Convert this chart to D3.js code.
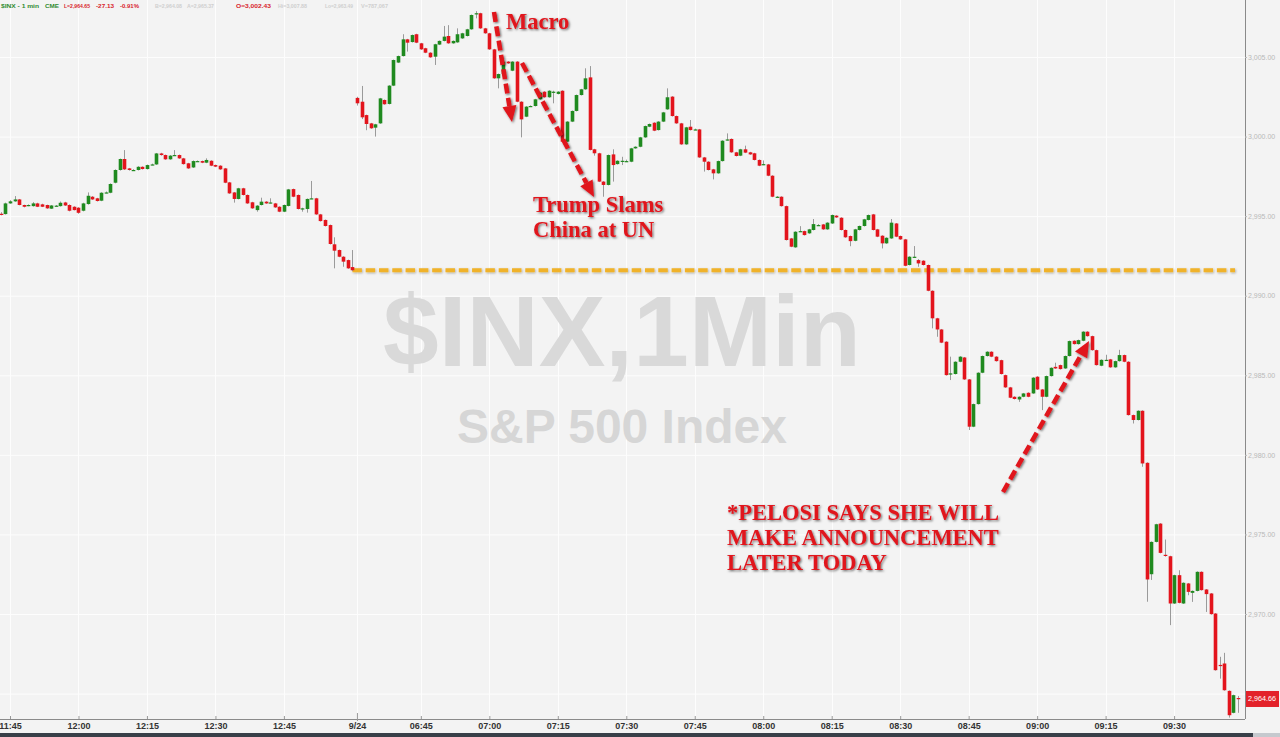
<!DOCTYPE html>
<html><head><meta charset="utf-8">
<script src="https://cdn.jsdelivr.net/npm/d3@7"></script>
<style>html,body{margin:0;padding:0;background:#f3f3f3;overflow:hidden}</style>
</head><body><svg id="c" width="1280" height="737"></svg>
<script>
// ---- DATA (1-minute candles, previous day 11:43-13:00, then 9/24 06:31-09:44) ----
const open = [
2995.15,2995.13,2995.80,2995.93,2996.05,2995.70,2995.66,2995.63,2995.80,2995.74,
2995.70,2995.47,2995.64,2995.63,2995.86,2995.70,2995.59,2995.53,2995.34,2995.76,
2996.22,2996.12,2995.97,2996.47,2996.47,2997.10,2997.90,2998.59,2998.00,2997.88,
2997.90,2998.10,2997.96,2998.23,2998.25,2998.94,2998.84,2998.57,2998.82,2998.84,
2998.63,2998.32,2998.06,2998.44,2998.46,2998.36,2998.48,2998.21,2998.17,2998.00,
2997.12,2996.49,2996.08,2996.75,2996.33,2995.87,2995.38,2995.70,2995.91,2995.84,
2995.80,2995.59,2995.28,2995.64,2996.70,2996.33,2995.47,2995.45,2996.10,2996.12,
2995.11,2994.76,2994.44,2993.23,2992.87,2992.45,2992.24,2991.80,
3002.43,3002.19,3001.35,3000.83,3000.56,3000.83,3002.30,3002.05,3003.20,3004.65,
3005.06,3006.11,3005.94,3006.43,3005.86,3005.55,3005.27,3005.02,3005.78,3006.01,
3006.32,3005.86,3005.92,3006.17,3006.32,3006.74,3007.70,3007.75,3006.80,3006.49,
3005.48,3003.66,3003.93,3004.71,3004.14,3004.71,3002.19,3001.25,3001.90,3001.92,
3002.34,3002.82,3002.47,3002.80,3002.68,3002.88,2999.68,3000.94,3001.61,3002.61,
3002.97,3003.72,2999.20,2998.95,2997.17,2996.96,2998.88,2998.27,2998.46,2998.46,
2998.42,2999.26,2999.36,2999.95,3000.62,3000.87,3000.41,3000.94,3001.71,3002.51,
3001.29,3000.83,2999.51,3000.62,3000.43,3000.45,2998.69,2998.42,2997.94,2997.69,
2998.46,2999.78,2999.85,2999.01,2998.80,2999.20,2999.01,2998.95,2998.53,2998.25,
2998.25,2997.54,2996.20,2996.22,2995.63,2993.60,2993.04,2994.04,2994.06,2993.92,
2994.13,2994.42,2994.48,2994.17,2994.54,2995.03,2994.90,2994.13,2993.75,2993.45,
2994.13,2994.38,2994.76,2995.11,2994.17,2993.77,2993.29,2993.60,2994.54,2993.75,
2993.54,2991.93,2992.43,2992.24,2992.20,2991.93,2990.31,2988.58,2987.88,2987.11,
2985.10,2985.08,2985.85,2986.12,2984.74,2981.77,2983.19,2985.16,2986.21,2986.48,
2986.17,2985.95,2985.01,2984.24,2983.65,2983.48,2983.65,2983.90,2983.86,2984.91,
2984.11,2983.65,2984.95,2985.53,2985.64,2985.43,2986.21,2987.17,2986.96,2987.17,
2987.74,2987.46,2986.58,2985.60,2985.95,2986.00,2985.50,2985.89,2986.27,2985.85,
2982.50,2982.19,2982.77,2979.50,2972.50,2974.53,2975.68,2973.72,2973.63,2970.66,
2972.44,2970.66,2971.92,2971.33,2971.45,2972.65,2971.54,2971.29,2970.03,2966.80,
2966.89,2965.17,2963.79,2964.72];
const high = [
2995.25,2995.85,2996.00,2996.26,2996.08,2995.72,2995.74,2995.88,2995.84,2995.78,
2995.72,2995.70,2995.70,2995.92,2995.90,2995.74,2995.62,2995.56,2995.84,2996.49,
2996.26,2996.15,2996.50,2996.55,2997.06,2997.94,2998.62,2999.15,2998.03,2997.95,
2998.14,2998.13,2998.24,2998.30,2998.97,2998.98,2998.87,2998.84,2999.15,2998.87,
2998.66,2998.35,2998.50,2998.50,2998.49,2998.63,2998.51,2998.24,2998.20,2998.03,
2997.15,2996.52,2996.78,2996.78,2996.36,2995.90,2995.69,2996.16,2995.94,2996.12,
2995.83,2995.62,2995.73,2996.71,2996.73,2996.36,2995.53,2996.11,2997.21,2996.15,
2995.14,2994.79,2994.47,2993.67,2992.90,2992.48,2992.27,2992.87,
3002.50,3003.18,3001.38,3000.86,3000.80,3002.43,3002.33,3003.23,3004.84,3005.09,
3006.43,3006.14,3006.41,3006.46,3005.89,3005.58,3005.30,3005.83,3006.04,3006.95,
3007.00,3006.04,3006.80,3006.52,3006.77,3007.67,3007.88,3007.78,3006.83,3006.52,
3005.51,3003.96,3004.74,3004.74,3004.74,3004.74,3002.22,3001.91,3001.96,3002.37,
3002.79,3002.85,3002.91,3002.88,3002.85,3002.91,3000.97,3001.64,3002.64,3003.00,
3004.29,3004.43,2999.23,2998.98,2997.20,2998.87,2999.20,2998.51,2998.73,2998.55,
2999.29,2999.39,2999.98,3000.69,3000.82,3000.90,3000.97,3001.55,3003.03,3002.54,
3001.32,3000.86,3000.61,3001.04,3000.50,3000.48,2998.72,2998.45,2997.97,2998.49,
2999.77,3000.20,2999.88,2999.04,2999.23,2999.43,2999.04,2998.98,2998.56,2998.50,
2998.28,2997.57,2996.26,2996.25,2995.66,2993.63,2994.05,2994.37,2994.09,2994.20,
2994.82,2994.50,2994.51,2994.62,2995.10,2995.06,2994.93,2994.16,2993.78,2994.20,
2994.41,2994.83,2995.10,2995.14,2994.20,2993.80,2993.67,2994.82,2994.57,2993.78,
2993.57,2992.48,2993.12,2992.30,2992.23,2991.96,2990.34,2988.61,2987.91,2987.14,
2986.17,2985.88,2986.20,2986.15,2984.77,2983.22,2985.19,2986.24,2986.51,2986.51,
2986.20,2985.98,2985.04,2984.27,2983.68,2983.68,2983.89,2983.93,2984.88,2984.94,
2984.14,2984.98,2985.50,2985.79,2985.67,2986.24,2987.18,2987.20,2987.24,2987.77,
2987.77,2987.49,2986.61,2986.00,2986.29,2986.03,2985.92,2986.60,2986.30,2985.88,
2982.53,2982.80,2982.80,2979.53,2974.56,2975.67,2975.71,2974.68,2973.66,2972.47,
2972.75,2971.99,2971.95,2971.48,2972.68,2972.68,2971.57,2971.32,2970.06,2967.31,
2967.56,2965.20,2964.93,2964.85];
const low = [
2995.05,2995.10,2995.78,2995.90,2995.68,2995.55,2995.62,2995.60,2995.57,2995.57,
2995.46,2995.45,2995.60,2995.60,2995.64,2995.30,2995.36,2995.15,2995.30,2995.72,
2996.02,2995.92,2995.94,2996.44,2996.44,2997.06,2997.86,2997.90,2997.86,2997.85,
2997.87,2997.93,2997.93,2998.20,2998.22,2998.80,2998.54,2998.54,2998.78,2998.60,
2998.24,2997.97,2998.03,2998.42,2998.33,2998.33,2998.14,2998.08,2997.91,2997.07,
2996.40,2995.85,2996.05,2996.30,2995.77,2995.46,2995.28,2995.67,2995.77,2995.80,
2995.52,2995.25,2995.25,2995.61,2996.19,2995.42,2995.28,2995.22,2996.07,2995.08,
2994.66,2994.35,2993.22,2991.72,2992.42,2991.82,2991.69,2991.55,
3001.95,3001.10,3000.40,3000.49,3000.00,3000.80,3002.00,3002.02,3003.17,3004.62,
3005.03,3005.34,3005.91,3005.87,3005.45,3005.24,3004.95,3004.50,3005.75,3005.98,
3005.83,3005.83,3005.89,3006.14,3006.29,3006.71,3007.43,3006.77,3006.46,3005.45,
3003.63,3003.03,3003.90,3004.57,3004.11,3002.16,2999.95,3001.22,3001.86,3001.89,
3002.31,3002.44,3002.44,3002.09,3002.65,2999.65,2999.65,3000.91,3001.58,3002.58,
3002.94,2999.13,2998.80,2997.14,2996.22,2996.93,2997.17,2998.24,2998.21,2998.40,
2998.39,2999.23,2999.33,2999.92,3000.59,3000.34,3000.38,3000.91,3001.68,3001.26,
3000.80,2999.48,2999.48,3000.38,3000.40,2998.66,2997.80,2997.87,2997.31,2997.66,
2998.43,2999.75,2998.98,2998.75,2998.77,2998.96,2998.85,2998.50,2998.14,2998.20,
2997.51,2996.19,2996.16,2995.60,2993.47,2993.05,2993.01,2994.01,2993.78,2993.89,
2994.10,2994.38,2994.14,2994.14,2994.51,2994.89,2994.10,2993.64,2993.11,2993.42,
2994.10,2994.35,2994.73,2994.10,2993.68,2992.97,2993.26,2993.57,2993.68,2993.51,
2991.85,2991.90,2992.40,2991.82,2991.90,2990.28,2987.95,2987.42,2987.02,2984.98,
2984.70,2985.05,2985.82,2984.71,2981.56,2981.74,2983.16,2985.13,2986.18,2986.14,
2985.86,2985.05,2984.21,2983.56,2983.48,2983.33,2983.62,2983.62,2983.83,2984.08,
2982.81,2983.62,2984.92,2985.40,2985.36,2985.40,2986.18,2986.93,2986.93,2987.14,
2987.43,2986.55,2985.61,2985.57,2985.92,2985.47,2985.47,2985.86,2985.82,2982.47,
2981.97,2982.16,2979.25,2970.77,2972.14,2974.50,2973.81,2973.60,2969.30,2970.63,
2970.67,2970.63,2971.18,2970.76,2971.42,2971.47,2970.13,2969.96,2966.44,2965.94,
2965.18,2963.49,2963.76,2963.79];
const close = [
2995.13,2995.80,2995.93,2996.05,2995.70,2995.59,2995.70,2995.80,2995.59,2995.59,
2995.49,2995.67,2995.66,2995.84,2995.67,2995.34,2995.38,2995.21,2995.80,2996.28,
2996.05,2995.95,2996.47,2996.49,2997.02,2997.90,2998.59,2997.94,2997.90,2997.90,
2998.10,2997.96,2998.21,2998.25,2998.94,2998.84,2998.57,2998.80,2998.84,2998.63,
2998.27,2998.00,2998.46,2998.46,2998.36,2998.53,2998.17,2998.11,2997.94,2997.10,
2996.43,2996.08,2996.75,2996.33,2995.80,2995.49,2995.66,2995.91,2995.80,2995.86,
2995.55,2995.28,2995.70,2996.68,2996.22,2995.45,2995.49,2996.08,2996.12,2995.11,
2994.69,2994.38,2993.25,2992.83,2992.45,2992.14,2991.72,2991.60,
3002.09,3001.21,3000.79,3000.52,3000.77,3002.40,3002.03,3003.20,3004.81,3005.06,
3006.11,3005.90,3006.38,3005.90,3005.48,3005.27,3004.98,3005.80,3006.01,3006.28,
3005.86,3006.01,3006.43,3006.49,3006.74,3007.64,3007.75,3006.80,3006.49,3005.48,
3003.66,3003.93,3004.71,3004.60,3004.71,3002.19,3001.08,3001.88,3001.92,3002.34,
3002.76,3002.47,3002.88,3002.82,3002.82,2999.68,3000.94,3001.61,3002.61,3002.97,
3003.66,2999.16,2998.95,2997.17,2996.96,2998.84,2998.21,2998.48,2998.48,2998.46,
2999.26,2999.36,2999.95,3000.66,3000.79,3000.37,3000.94,3001.52,3002.47,3001.29,
3000.83,2999.51,3000.58,3000.41,3000.45,2998.69,2998.42,2997.90,2997.69,2998.46,
2999.74,2999.82,2999.01,2998.78,2999.20,2998.99,2998.88,2998.53,2998.17,2998.27,
2997.54,2996.22,2996.22,2995.63,2993.50,2993.08,2994.02,2994.06,2993.81,2994.17,
2994.50,2994.44,2994.17,2994.59,2995.07,2994.92,2994.13,2993.67,2993.43,2994.17,
2994.38,2994.80,2995.07,2994.13,2993.71,2993.29,2993.64,2994.59,2993.71,2993.54,
2991.88,2992.45,2992.45,2992.03,2991.93,2990.31,2988.58,2987.88,2987.05,2985.01,
2985.12,2985.85,2986.17,2984.74,2981.77,2983.19,2985.16,2986.21,2986.48,2986.17,
2985.89,2985.08,2984.24,2983.59,2983.51,2983.65,2983.86,2983.65,2984.85,2984.11,
2983.65,2984.95,2985.47,2985.43,2985.39,2986.21,2987.15,2986.96,2987.21,2987.74,
2987.46,2986.58,2985.64,2985.97,2985.97,2985.50,2985.89,2986.27,2985.85,2982.50,
2982.19,2982.77,2979.46,2972.17,2974.53,2975.64,2973.84,2973.70,2970.66,2972.44,
2970.70,2971.96,2971.39,2971.45,2972.65,2971.50,2971.25,2969.99,2966.47,2966.78,
2965.21,2963.64,2964.90,2964.65];

const tickIndex  = [2,17,32,47,62,78,92,107,122,137,152,167,182,197,212,227,242,257];
const tickLabels = ["11:45","12:00","12:15","12:30","12:45","9/24","06:45","07:00","07:15",
                    "07:30","07:45","08:00","08:15","08:30","08:45","09:00","09:15","09:30"];
const priceTicks = [2970,2975,2980,2985,2990,2995,3000,3005];
const prevCloseLevel = 2991.6;
const prevCloseStartIndex = 77;
const lastPrice = 2964.66;
const headerTexts = [
  {t:"$INX - 1 min", c:"#2f8a2f", x:1,   w:38},
  {t:"CME",          c:"#2f8a2f", x:45,  w:14},
  {t:"L=2,964.65",   c:"#d8222b", x:64,  w:26},
  {t:"-27.13",       c:"#d8222b", x:96,  w:18},
  {t:"-0.91%",       c:"#d8222b", x:120, w:19},
  {t:"B=2,964.08",   c:"#cfcfcf", x:155, w:27},
  {t:"A=2,965.37",   c:"#cfcfcf", x:187, w:27},
  {t:"O=3,002.43",   c:"#d8222b", x:236, w:35},
  {t:"Hi=3,007.88",  c:"#cfcfcf", x:278, w:29},
  {t:"Lo=2,963.49",  c:"#cfcfcf", x:325, w:28},
  {t:"V=787,067",    c:"#cfcfcf", x:361, w:27}
];
const noteMacro  = ["Macro"];
const noteTrump  = ["Trump Slams","China at UN"];
const notePelosi = ["*PELOSI SAYS SHE WILL","MAKE ANNOUNCEMENT","LATER TODAY"];

// ---- CHART ----
const W = 1280, H = 737;
const plotRight = 1245, plotBottom = 719;
const svg = d3.select("#c");
const x = d3.scaleLinear().domain([0, 271]).range([0.87, 1238.0]);
const y = d3.scaleLinear().domain([2970, 3005]).range([614, 57]);

svg.append("rect").attr("width", W).attr("height", H).attr("fill", "#f3f3f3");

const defs = svg.append("defs");
const sh = defs.append("filter").attr("id","sh").attr("filterUnits","userSpaceOnUse")
  .attr("x",0).attr("y",0).attr("width",W).attr("height",H);
sh.append("feDropShadow").attr("dx",1.2).attr("dy",1.2).attr("stdDeviation",0.9).attr("flood-color","#000").attr("flood-opacity",0.55);
const sh2 = defs.append("filter").attr("id","sh2").attr("filterUnits","userSpaceOnUse")
  .attr("x",0).attr("y",0).attr("width",W).attr("height",H);
sh2.append("feDropShadow").attr("dx",0.8).attr("dy",1).attr("stdDeviation",0.8).attr("flood-color","#000").attr("flood-opacity",0.3);
const clip = defs.append("clipPath").attr("id","plot");
clip.append("rect").attr("x",0).attr("y",0).attr("width",plotRight).attr("height",plotBottom);

// grid
const grid = svg.append("g");
grid.selectAll("line.h").data(priceTicks.concat([2965])).join("line")
  .attr("x1",0).attr("x2",plotRight).attr("y1",d=>y(d)+0.5).attr("y2",d=>y(d)+0.5)
  .attr("stroke","#fdfdfd").attr("stroke-width",1);
grid.selectAll("line.v").data(tickIndex).join("line")
  .attr("x1",d=>Math.round(x(d))+0.5).attr("x2",d=>Math.round(x(d))+0.5).attr("y1",0).attr("y2",plotBottom)
  .attr("stroke","#fdfdfd").attr("stroke-width",1);

// watermark
svg.append("text").attr("x",622).attr("y",366).attr("text-anchor","middle")
  .attr("font-family","Liberation Sans, Arial, sans-serif").attr("font-weight","bold")
  .attr("font-size",100).attr("fill","#d9d9d9").text("$INX,1Min");
svg.append("text").attr("x",622).attr("y",443).attr("text-anchor","middle")
  .attr("font-family","Liberation Sans, Arial, sans-serif").attr("font-weight","bold")
  .attr("font-size",48).attr("fill","#d6d6d6").text("S&P 500 Index");

// prev close dashed line
svg.append("line")
  .attr("x1", x(prevCloseStartIndex)).attr("x2", 1235)
  .attr("y1", y(prevCloseLevel)).attr("y2", y(prevCloseLevel))
  .attr("stroke","#f0b22a").attr("stroke-width",4).attr("stroke-dasharray","9.5,3.8")
  .attr("filter","url(#sh2)");

// candles
const idx = d3.range(open.length);
const cg = svg.append("g").attr("clip-path","url(#plot)");
cg.selectAll("line.w").data(idx).join("line")
  .attr("x1",i=>Math.round(x(i))+0.5).attr("x2",i=>Math.round(x(i))+0.5)
  .attr("y1",i=>y(high[i])).attr("y2",i=>y(low[i]))
  .attr("stroke","#9a9a9a").attr("stroke-width",1);
cg.selectAll("rect.b").data(idx).join("rect")
  .attr("x",i=>Math.round(x(i))-1.3).attr("width",3.6)
  .attr("y",i=>y(Math.max(open[i],close[i])))
  .attr("height",i=>Math.max(1.2, Math.abs(y(open[i])-y(close[i]))))
  .attr("fill",i=> close[i] >= open[i] ? "#1f8a1f" : "#e3141c");

// annotations
const red = "#e0141c";
function arrow(x1,y1,x2,y2){
  const g = svg.append("g").attr("filter","url(#sh)");
  const ang = Math.atan2(y2-y1, x2-x1);
  const hl = 16, hw = 7;
  const bx = x2 - hl*Math.cos(ang), by = y2 - hl*Math.sin(ang);
  g.append("line").attr("x1",x1).attr("y1",y1).attr("x2",bx).attr("y2",by)
    .attr("stroke",red).attr("stroke-width",4.5).attr("stroke-dasharray","10,4.5");
  const px = -Math.sin(ang), py = Math.cos(ang);
  g.append("path").attr("d",`M${x2},${y2}L${bx+px*hw},${by+py*hw}L${bx-px*hw},${by-py*hw}Z`).attr("fill",red);
}
arrow(494,12,512,122);
arrow(522,63,594,197);
arrow(1003,492,1089,341);

function note(lines,x0,y0,lh,fs){
  const t = svg.append("text").attr("font-family","Liberation Serif, 'Times New Roman', serif")
    .attr("font-weight","bold").attr("font-size",fs).attr("fill",red).attr("filter","url(#sh)");
  t.selectAll("tspan").data(lines).join("tspan").attr("x",x0).attr("y",(d,i)=>y0+i*lh).text(d=>d);
}
note(noteMacro,506,29,24,22.5);
note(noteTrump,533,212,24.5,22.5);
note(notePelosi,727,520,25,22.5);

// right axis
const ay = svg.append("g").attr("transform",`translate(${plotRight},0)`)
  .call(d3.axisRight(y).tickValues(priceTicks).tickFormat(d3.format(",.2f")).tickSize(2).tickPadding(1));
ay.select(".domain").attr("stroke","#8a8a8a").attr("d",`M0.5,0V${plotBottom}`);
ay.selectAll(".tick line").attr("stroke","#bbb");
ay.selectAll(".tick text").attr("fill","#b9b9b9").attr("font-size",7)
  .attr("font-family","Liberation Sans, Arial, sans-serif");

// last price tag
const ly = y(lastPrice);
svg.append("rect").attr("x",plotRight+1).attr("y",ly-8).attr("width",33).attr("height",16).attr("fill","#e3222a");
svg.append("text").attr("x",plotRight+17).attr("y",ly+2.5).attr("text-anchor","middle")
  .attr("font-family","Liberation Sans, Arial, sans-serif").attr("font-size",7.2).attr("fill","#fff")
  .text(d3.format(",.2f")(lastPrice));

// bottom axis
const ax = svg.append("g").attr("transform",`translate(0,${plotBottom})`)
  .call(d3.axisBottom(x).tickValues(tickIndex).tickFormat((d,i)=>tickLabels[i]).tickSize(3).tickPadding(2));
ax.select(".domain").attr("stroke","#8a8a8a").attr("d",`M0,0.5H${plotRight}`);
ax.selectAll(".tick line").attr("stroke","#999").attr("y1",-3).attr("y2",0);
ax.selectAll(".tick text").attr("fill","#333").attr("font-size",9).attr("font-weight","bold")
  .attr("font-family","Liberation Sans, Arial, sans-serif").attr("y",4);
ax.selectAll(".tick").filter((d,i)=>tickLabels[i]==="9/24").select("line").attr("y1",-6).attr("y2",2);

// scrollbar
svg.append("rect").attr("x",0).attr("y",733).attr("width",1253).attr("height",4).attr("fill","#383f48");
svg.append("rect").attr("x",1253).attr("y",733).attr("width",27).attr("height",4).attr("fill","#c5c9ce");

// header
svg.append("g").selectAll("text").data(headerTexts).join("text")
  .attr("x",d=>d.x).attr("y",8).attr("font-size",6).attr("font-weight","bold")
  .attr("textLength",d=>d.w).attr("lengthAdjust","spacingAndGlyphs")
  .attr("font-family","Liberation Sans, Arial, sans-serif").attr("fill",d=>d.c).text(d=>d.t);
</script></body></html>
